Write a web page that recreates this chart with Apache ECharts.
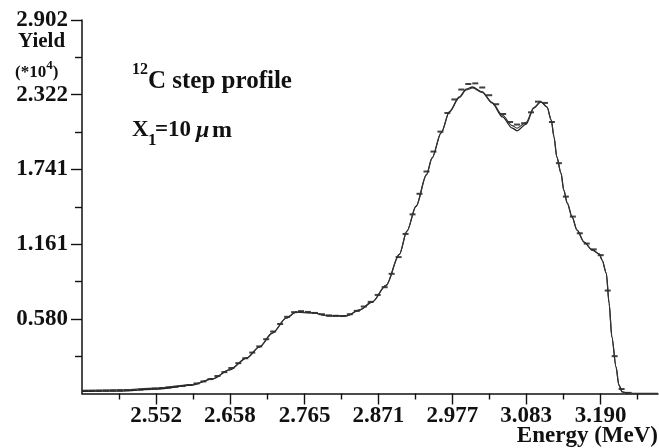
<!DOCTYPE html>
<html>
<head>
<meta charset="utf-8">
<script src="https://cdn.jsdelivr.net/npm/echarts@6/dist/echarts.min.js"></script>
<style>
html,body{margin:0;padding:0;background:#fff;}
#chart{width:659px;height:448px;}
</style>
</head>
<body>
<div id="chart"></div>
<script>
// ---- data (Energy in MeV, Yield in units of 10^4) ----
const xTickLabels = ['2.552', '2.658', '2.765', '2.871', '2.977', '3.083', '3.190'];
const xMinorTicks = [2.499, 2.605, 2.7115, 2.818, 2.924, 3.030, 3.1365, 3.243];
const yTickLabels = ['0.580', '1.161', '1.741', '2.322', '2.902'];
const yMinorTicks = [0.290, 0.871, 1.451, 2.032, 2.612];

const energyFit = [2.446, 2.499, 2.552, 2.604, 2.633, 2.657, 2.682, 2.700, 2.719, 2.739,
  2.753, 2.776, 2.800, 2.825, 2.844, 2.862, 2.882, 2.901, 2.912, 2.925,
  2.940, 2.948, 2.961, 2.973, 2.987, 2.997, 3.006, 3.020, 3.034, 3.049,
  3.063, 3.070, 3.083, 3.094, 3.104, 3.113, 3.119, 3.123, 3.127, 3.133,
  3.137, 3.142, 3.149, 3.156, 3.166, 3.178, 3.188, 3.192, 3.198, 3.202,
  3.206, 3.212, 3.216, 3.221, 3.231, 3.272];
const yieldFitA = [0.016, 0.019, 0.035, 0.066, 0.113, 0.183, 0.276, 0.361, 0.470, 0.587,
  0.633, 0.626, 0.603, 0.603, 0.649, 0.711, 0.840, 1.080, 1.262, 1.455,
  1.700, 1.830, 2.025, 2.190, 2.304, 2.366, 2.382, 2.343, 2.258, 2.149,
  2.063, 2.042, 2.094, 2.218, 2.267, 2.226, 2.125, 1.993, 1.838, 1.713,
  1.581, 1.480, 1.371, 1.270, 1.177, 1.115, 1.084, 1.037, 0.936, 0.703,
  0.439, 0.206, 0.066, 0.012, 0.000, 0.000];
const yieldFitB = [0.024, 0.028, 0.042, 0.070, 0.115, 0.183, 0.276, 0.361, 0.470, 0.587,
  0.633, 0.626, 0.603, 0.603, 0.649, 0.711, 0.840, 1.080, 1.262, 1.455,
  1.700, 1.830, 2.025, 2.190, 2.298, 2.358, 2.374, 2.340, 2.262, 2.162,
  2.082, 2.062, 2.108, 2.222, 2.268, 2.226, 2.125, 1.993, 1.838, 1.713,
  1.581, 1.480, 1.371, 1.270, 1.177, 1.115, 1.084, 1.037, 0.936, 0.703,
  0.439, 0.206, 0.066, 0.012, 0.000, 0.000];

const energyData = [2.45, 2.46, 2.47, 2.48, 2.49, 2.50, 2.51, 2.52, 2.53, 2.54,
  2.55, 2.56, 2.57, 2.58, 2.59, 2.60, 2.61, 2.62, 2.63, 2.64,
  2.65, 2.66, 2.67, 2.68, 2.69, 2.70, 2.71, 2.72, 2.73, 2.74,
  2.75, 2.76, 2.77, 2.78, 2.79, 2.80, 2.81, 2.82, 2.83, 2.84,
  2.85, 2.86, 2.87, 2.88, 2.89, 2.90, 2.91, 2.92, 2.93, 2.94,
  2.95, 2.96, 2.97, 2.98, 2.99, 3.00, 3.01, 3.02, 3.03, 3.04,
  3.05, 3.06, 3.07, 3.08, 3.09, 3.10, 3.11, 3.12, 3.13, 3.14,
  3.15, 3.16, 3.17, 3.18, 3.19, 3.20, 3.21, 3.22, 3.23];
const yieldData = [0.020, 0.020, 0.021, 0.022, 0.023, 0.024, 0.026, 0.028, 0.031, 0.034,
  0.038, 0.042, 0.047, 0.052, 0.058, 0.066, 0.078, 0.094, 0.112, 0.136,
  0.166, 0.198, 0.236, 0.274, 0.318, 0.366, 0.422, 0.482, 0.540, 0.596,
  0.632, 0.640, 0.634, 0.626, 0.616, 0.607, 0.604, 0.602, 0.616, 0.642,
  0.676, 0.712, 0.766, 0.826, 0.930, 1.060, 1.240, 1.392, 1.552, 1.725,
  1.880, 2.035, 2.180, 2.285, 2.362, 2.405, 2.410, 2.378, 2.318, 2.248,
  2.172, 2.110, 2.090, 2.100, 2.185, 2.268, 2.258, 2.110, 1.790, 1.530,
  1.375, 1.245, 1.165, 1.120, 1.075, 0.800, 0.290, 0.035, 0.005];

// ---- axis geometry ----
const xMin = 2.4457;
const xMax = 3.2722;
const yMax = 2.9025;

const serif = '"Liberation Serif", "Times New Roman", serif';
const ink = '#111';
const xTickValues = xTickLabels.map(Number);
const yTickValues = yTickLabels.map(Number);

const zip = (a, b) => a.map((v, i) => [v, b[i]]);

const axisBase = {
  type: 'value', splitLine: {show: false}
};

const chart = echarts.init(document.getElementById('chart'), null, {renderer: 'canvas'});
chart.setOption({
  animation: false,
  backgroundColor: '#fff',
  grid: {left: 82, right: 1, top: 20, bottom: 54.5, containLabel: false},
  xAxis: [
    Object.assign({}, axisBase, {
      position: 'bottom', min: xMin, max: xMax,
      axisLine: {show: true, onZero: false, lineStyle: {color: ink, width: 1.5}},
      axisTick: {show: true, inside: false, length: 11, customValues: xTickValues, lineStyle: {color: ink, width: 1.4}},
      axisLabel: {
        customValues: xTickValues, margin: 11, color: ink, fontFamily: serif,
        fontSize: 23, fontWeight: 'bold',
        formatter: v => v.toFixed(3)
      }
    }),
    Object.assign({}, axisBase, {
      position: 'bottom', min: xMin, max: xMax,
      axisLine: {show: false, onZero: false},
      axisTick: {show: true, inside: false, length: 6, customValues: xMinorTicks, lineStyle: {color: ink, width: 1.4}},
      axisLabel: {show: false}
    })
  ],
  yAxis: [
    Object.assign({}, axisBase, {
      position: 'left', min: 0, max: yMax,
      axisLine: {show: true, onZero: false, lineStyle: {color: ink, width: 1.5}},
      axisTick: {show: true, inside: false, length: 11, customValues: yTickValues, lineStyle: {color: ink, width: 1.4}},
      axisLabel: {
        customValues: yTickValues, margin: 14, color: ink, fontFamily: serif,
        fontSize: 23, fontWeight: 'bold',
        formatter: v => v.toFixed(3)
      }
    }),
    Object.assign({}, axisBase, {
      position: 'left', min: 0, max: yMax,
      axisLine: {show: false, onZero: false},
      axisTick: {show: true, inside: false, length: 7, customValues: yMinorTicks, lineStyle: {color: ink, width: 1.4}},
      axisLabel: {show: false}
    })
  ],
  series: [
    {
      name: 'fit A', type: 'line', xAxisIndex: 0, yAxisIndex: 0,
      data: zip(energyFit, yieldFitA),
      showSymbol: false, smooth: 0.3, smoothMonotone: 'x',
      lineStyle: {color: '#222', width: 1.3}
    },
    {
      name: 'fit B', type: 'line', xAxisIndex: 0, yAxisIndex: 0,
      data: zip(energyFit, yieldFitB),
      showSymbol: false, smooth: 0.3, smoothMonotone: 'x',
      lineStyle: {color: '#333', width: 1.1}
    },
    {
      name: 'data', type: 'scatter', xAxisIndex: 0, yAxisIndex: 0,
      data: zip(energyData, yieldData),
      symbol: 'rect', symbolSize: [6, 2],
      itemStyle: {color: '#111'}
    }
  ],
  graphic: [
    {type: 'text', left: 18, top: 31, style: {text: 'Yield', font: 'bold 21px ' + serif, fill: ink}},
    {type: 'text', left: 15, top: 59, style: {
      text: '{a|(*10}{s|4}{a|)}',
      rich: {
        a: {fontFamily: serif, fontSize: 17, fontWeight: 'bold', fill: ink, verticalAlign: 'bottom', lineHeight: 22},
        s: {fontFamily: serif, fontSize: 13, fontWeight: 'bold', fill: ink, verticalAlign: 'top', lineHeight: 22}
      }
    }},
    {type: 'text', left: 132, top: 62, style: {text: '12', font: 'bold 16px ' + serif, fill: ink}},
    {type: 'text', left: 148, top: 69, style: {text: 'C step profile', font: 'bold 25px ' + serif, fill: ink}},
    {type: 'text', left: 132, top: 119, style: {text: 'X', font: 'bold 23px ' + serif, fill: ink}},
    {type: 'text', left: 148, top: 132, style: {text: '1', font: 'bold 17px ' + serif, fill: ink}},
    {type: 'text', left: 155, top: 119, style: {text: '=10', font: 'bold 23px ' + serif, fill: ink}},
    {type: 'text', left: 196, top: 119, style: {text: 'μ', font: 'italic bold 24px ' + serif, fill: ink}},
    {type: 'text', left: 212, top: 119, style: {text: 'm', font: 'bold 24px ' + serif, fill: ink}},
    {type: 'text', right: 1, top: 425, style: {text: 'Energy (MeV)', font: 'bold 23px ' + serif, fill: ink}}
  ]
});
</script>
</body>
</html>
